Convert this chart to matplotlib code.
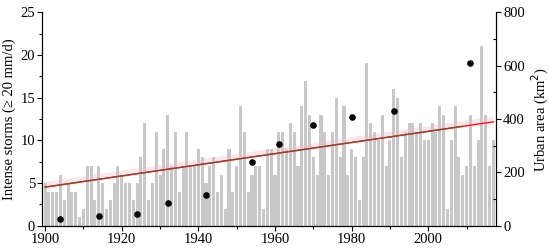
import numpy as np
import matplotlib
matplotlib.use("Agg")
import matplotlib.pyplot as plt
from matplotlib.ticker import MultipleLocator

years = list(range(1900, 2018))
storms = [5, 4, 4, 4, 6, 3, 5, 4, 4, 1,
          2, 7, 7, 3, 7, 5, 2, 3, 5, 7,
          6, 5, 5, 3, 5, 8, 12, 3, 5, 11,
          6, 9, 13, 7, 11, 4, 7, 11, 7, 7,
          9, 8, 5, 7, 8, 4, 6, 2, 9, 4,
          7, 14, 11, 4, 6, 7, 7, 2, 9, 9,
          6, 11, 11, 9, 12, 11, 7, 14, 17, 13,
          8, 6, 13, 11, 6, 11, 15, 8, 14, 6,
          9, 8, 3, 8, 19, 12, 11, 10, 13, 7,
          10, 16, 15, 8, 11, 12, 12, 11, 12, 10,
          10, 12, 11, 14, 13, 2, 10, 14, 8, 6,
          7, 13, 7, 10, 21, 13, 7, 10]

urban_years = [1904, 1914, 1924, 1932, 1942, 1954, 1961, 1970, 1980, 1991, 2011]
urban_area = [25, 36, 43, 84, 115, 238, 307, 377, 407, 431, 609]

x_ticks = [1900, 1920, 1940, 1960, 1980, 2000]

plt.rcParams['font.family'] = ['Liberation Serif', 'DejaVu Serif']

fig = plt.figure(figsize=(5.5, 2.5), dpi=100)
ax = fig.add_axes([0.0764, 0.097, 0.9020 - 0.0764, 0.951 - 0.097])

ax.bar(years, storms, width=0.8, color='#c8c8c8', zorder=1)

coef = np.polyfit(years, storms, 1)
xs = np.array([years[0], years[-1]])
trend = np.polyval(coef, xs)
ax.plot(xs, trend + 0.2, color='#f2b8c6', lw=5, alpha=0.35, solid_capstyle='butt', zorder=2)
ax.plot(xs, trend, color='#e8202a', lw=1.0, zorder=3)
xs2 = np.array([years[0], 2009])
ax.plot(xs2, np.polyval(coef, xs2), color='#7a5030', lw=0.9, zorder=4)

ax.set_xlim(1899.2, 2017.7)
ax.set_ylim(0, 25)
ax.set_xticks(x_ticks)
ax.xaxis.set_minor_locator(MultipleLocator(10))
ax.yaxis.set_major_locator(MultipleLocator(5))
ax.yaxis.set_minor_locator(MultipleLocator(2.5))
ax.tick_params(axis='both', which='major', direction='out', length=3.5, width=0.8, labelsize=10.5, pad=1.5)
ax.tick_params(axis='both', which='minor', direction='out', length=2.5, width=0.8)
ax.spines['top'].set_visible(False)
ax.set_ylabel('Intense storms (≥ 20 mm/d)', fontsize=10.5, labelpad=3)

ax2 = ax.twinx()
ax2.scatter(urban_years, urban_area, s=14, color='black', zorder=5)
ax2.set_ylim(0, 800)
ax2.yaxis.set_major_locator(MultipleLocator(200))
ax2.yaxis.set_minor_locator(MultipleLocator(100))
ax2.tick_params(axis='y', which='major', direction='out', length=3.5, width=0.8, labelsize=10.5, pad=1.5)
ax2.tick_params(axis='y', which='minor', direction='in', length=2.5, width=0.8)
ax2.spines['top'].set_visible(False)
ax2.set_ylabel('Urban area (km$^2$)', fontsize=10.5, labelpad=4)

fig.savefig('out.png', dpi=100)
